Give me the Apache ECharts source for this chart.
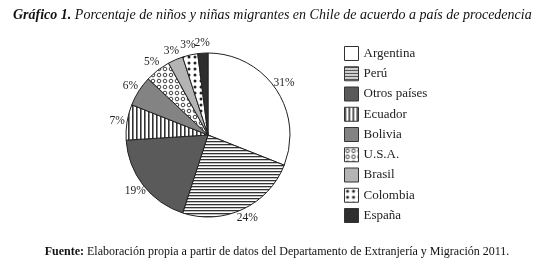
<!DOCTYPE html>
<html>
<head>
<meta charset="utf-8">
<script src="https://cdn.jsdelivr.net/npm/echarts@6/dist/echarts.min.js"></script>
<style>
  html, body { margin: 0; padding: 0; background: #fff; }
  #chart { width: 554px; height: 267px; }
</style>
</head>
<body>
<div id="chart"></div>
<script>
const countries = ['Argentina', 'Perú', 'Otros países', 'Ecuador', 'Bolivia', 'U.S.A.', 'Brasil', 'Colombia', 'España'];
const percents = [31, 24, 19, 7, 6, 5, 3, 3, 2];

// small canvas tiles for the hatched fills
function tile(w, h, draw) {
  const c = document.createElement('canvas');
  c.width = w; c.height = h;
  const ctx = c.getContext('2d');
  ctx.fillStyle = '#fff';
  ctx.fillRect(0, 0, w, h);
  draw(ctx);
  return { image: c, repeat: 'repeat' };
}
const hStripes = tile(4, 3, ctx => { ctx.fillStyle = '#333'; ctx.fillRect(0, 0, 4, 1.3); });
const vStripes = tile(4, 4, ctx => { ctx.fillStyle = '#333'; ctx.fillRect(0, 0, 1.6, 4); });
const rings = tile(6, 6, ctx => {
  ctx.strokeStyle = '#444'; ctx.lineWidth = 1;
  ctx.beginPath(); ctx.arc(3, 3, 1.8, 0, Math.PI * 2); ctx.stroke();
});
const dots = tile(6, 6, ctx => {
  ctx.fillStyle = '#222';
  ctx.beginPath(); ctx.arc(3, 3, 1.5, 0, Math.PI * 2); ctx.fill();
});
const fills = ['#ffffff', hStripes, '#5a5a5a', vStripes, '#838383', rings, '#b4b4b4', dots, '#2e2e2e'];

const chart = echarts.init(document.getElementById('chart'));
chart.setOption({
  backgroundColor: '#fff',
  animation: false,
  title: {
    text: '{b|Gráfico 1.} Porcentaje de niños y niñas migrantes en Chile de acuerdo a país de procedencia',
    left: 8, top: 3,
    textStyle: {
      fontFamily: 'Liberation Serif', fontStyle: 'italic', fontWeight: 'normal', fontSize: 14, color: '#111',
      rich: { b: { fontFamily: 'Liberation Serif', fontStyle: 'italic', fontWeight: 'bold', fontSize: 14, color: '#111' } }
    }
  },
  graphic: [{
    type: 'text', left: 'center', top: 246,
    style: {
      text: '{b|Fuente:} Elaboración propia a partir de datos del Departamento de Extranjería y Migración 2011.',
      fontFamily: 'Liberation Serif', fontSize: 12, fill: '#111',
      rich: { b: { fontFamily: 'Liberation Serif', fontWeight: 'bold', fontSize: 12, fill: '#111' } }
    }
  }],
  legend: {
    orient: 'vertical', left: 339, top: 41,
    itemWidth: 14, itemHeight: 14, itemGap: 5.25,
    icon: 'rect',
    itemStyle: { borderColor: '#333', borderWidth: 1 },
    textStyle: { fontFamily: 'Liberation Serif', fontSize: 13, color: '#222' },
    data: countries
  },
  series: [{
    type: 'pie',
    center: [208, 135], radius: 82,
    startAngle: 90, clockwise: true,
    avoidLabelOverlap: false,
    itemStyle: { borderColor: '#222', borderWidth: 1 },
    label: { position: 'outside', formatter: '{c}%', fontFamily: 'Liberation Serif', fontSize: 11.5, color: '#222' },
    labelLine: { show: false, length: 10, length2: 0 },
    // centre each percentage on the end of its (hidden) label line
    labelLayout(params) {
      const p = params.labelLinePoints ? params.labelLinePoints[1] : null;
      if (!p) return {};
      return { x: p[0], y: p[1], align: 'center', verticalAlign: 'middle' };
    },
    emphasis: { disabled: true },
    data: countries.map((n, i) => ({ name: n, value: percents[i], itemStyle: { color: fills[i] } }))
  }]
});
</script>
</body>
</html>
